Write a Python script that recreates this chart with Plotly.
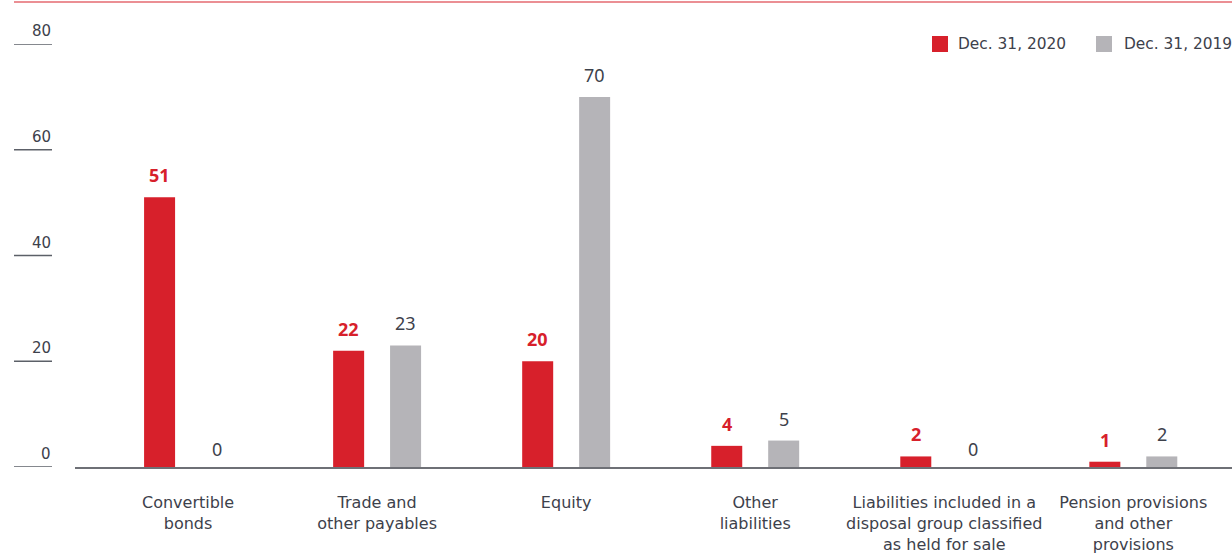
import plotly.graph_objects as go

categories = ["Convertible<br>bonds", "Trade and<br>other payables", "Equity",
              "Other<br>liabilities",
              "Liabilities included in a<br>disposal group classified<br>as held for sale",
              "Pension provisions<br>and other<br>provisions"]
series_names = ["Dec. 31, 2020", "Dec. 31, 2019"]
values_2020 = [51, 22, 20, 4, 2, 1]
values_2019 = [0, 23, 70, 5, 0, 2]
y_ticks = [0, 20, 40, 60, 80]

RED = "#d7202b"
GRAY = "#b5b4b8"
TEXT = "#3d414b"
FONT = "DejaVu Sans"
VFONT = "Noto Sans"

W, H = 1232, 555
L, R, T, B = 75, 0, 44, 88
pw = W - L - R
ph = H - T - B
def px_x(px):
    return (px - L) / pw
def px_y(py):
    return (H - B - py) / ph

bw = 0.164
off = 0.1506
xr = [-0.598, 5.522]

fig = go.Figure()
fig.add_trace(go.Bar(x=categories, y=values_2020, name=series_names[0],
                     marker=dict(color=RED, line=dict(width=0)),
                     width=bw, offset=-off - bw / 2, showlegend=False, hoverinfo="skip"))
fig.add_trace(go.Bar(x=categories, y=values_2019, name=series_names[1],
                     marker=dict(color=GRAY, line=dict(width=0)),
                     width=bw, offset=off - bw / 2, showlegend=False, hoverinfo="skip"))

ann = []
shapes = []
shift_px = off * pw / (xr[1] - xr[0])
for c, v in zip(categories, values_2020):
    ann.append(dict(x=c, y=v, xref="x", yref="y", text=f"<b>{v}</b>", showarrow=False,
                    xshift=-shift_px, yshift=8, yanchor="bottom",
                    font=dict(family=VFONT, size=18, color=RED)))
for c, v in zip(categories, values_2019):
    ann.append(dict(x=c, y=v, xref="x", yref="y", text=str(v), showarrow=False,
                    xshift=shift_px, yshift=8 if v > 0 else 4, yanchor="bottom",
                    font=dict(family=VFONT, size=18, color=TEXT)))

# y tick labels and short tick lines
for t in y_ticks:
    ann.append(dict(x=px_x(53), y=t, xref="paper", yref="y", text=str(t), showarrow=False,
                    xanchor="right", yanchor="bottom", yshift=2,
                    font=dict(family=FONT, size=15, color=TEXT)))
    shapes.append(dict(type="line", xref="paper", yref="y", x0=px_x(14), x1=px_x(52),
                       y0=t, y1=t, line=dict(color="#5c6068", width=1.5)))

# top red rule
shapes.append(dict(type="line", xref="paper", yref="paper", x0=px_x(14), x1=px_x(W),
                   y0=px_y(2), y1=px_y(2), line=dict(color=RED, width=1.2)))

# legend
leg = [(932, RED, 956, series_names[0]), (1096, GRAY, 1122, series_names[1])]
for sx, col, tx, name in leg:
    shapes.append(dict(type="rect", xref="paper", yref="paper", x0=px_x(sx), x1=px_x(sx + 16),
                       y0=px_y(52), y1=px_y(36), fillcolor=col, line=dict(width=0)))
    ann.append(dict(x=px_x(tx), y=px_y(44), xref="paper", yref="paper", text=name,
                    showarrow=False, xanchor="left", yanchor="middle",
                    font=dict(family=FONT, size=15.4, color=TEXT)))

fig.update_layout(
    width=W, height=H,
    margin=dict(l=L, r=R, t=T, b=B, pad=0, autoexpand=False),
    paper_bgcolor="white", plot_bgcolor="white",
    barmode="overlay",
    font=dict(family=FONT, size=16, color=TEXT),
    xaxis=dict(type="category", range=xr, showgrid=False, zeroline=False,
               showline=True, linecolor="#6e7076", linewidth=2, ticks="",
               ticklabelstandoff=20, automargin=False,
               tickfont=dict(family=FONT, size=16, color=TEXT)),
    yaxis=dict(range=[0, 80], showgrid=False, zeroline=False, showticklabels=False,
               showline=False, ticks="", automargin=False),
    annotations=ann, shapes=shapes,
    hovermode=False,
)

fig.write_html("out.html", config={"displayModeBar": False},
               post_script="document.body.style.margin='0px';")
